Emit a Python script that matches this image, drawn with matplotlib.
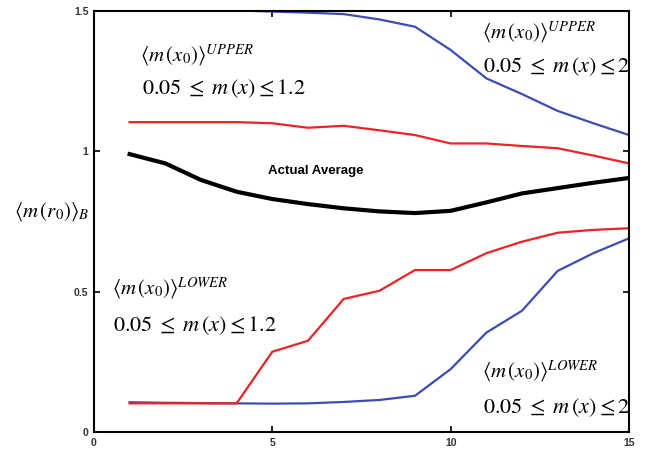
import matplotlib
matplotlib.use("Agg")
import matplotlib.pyplot as plt

plt.rcParams["mathtext.fontset"] = "stix"
plt.rcParams["font.family"] = ["Liberation Sans", "DejaVu Sans"]

# sample index along the horizontal axis
steps = list(range(1, 16))

actual_avg = [0.99, 0.957, 0.898, 0.856, 0.83, 0.812, 0.797, 0.786, 0.78,
              0.788, 0.818, 0.85, 0.869, 0.888, 0.905]

upper_12 = [1.104, 1.104, 1.104, 1.104, 1.10, 1.084, 1.091, 1.075, 1.058,
            1.028, 1.028, 1.019, 1.011, 0.985, 0.957]
lower_12 = [0.102, 0.102, 0.102, 0.102, 0.286, 0.325, 0.474, 0.503, 0.577,
            0.577, 0.637, 0.678, 0.71, 0.72, 0.726]

upper_2 = [1.53, 1.52, 1.51, 1.502, 1.498, 1.494, 1.489, 1.47, 1.444,
           1.361, 1.26, 1.204, 1.144, 1.10, 1.058]
lower_2 = [0.106, 0.104, 0.103, 0.102, 0.101, 0.102, 0.107, 0.114, 0.129,
           0.224, 0.354, 0.432, 0.574, 0.637, 0.69]

RED = "#ec2227"
BLUE = "#3b4db5"

fig = plt.figure(figsize=(6.45, 4.49), dpi=100, facecolor="white")
ax = fig.add_axes([0.1457, 0.0379, 0.8295, 0.9376])

ax.plot(steps, upper_2, color=BLUE, lw=1.6)
ax.plot(steps, lower_2, color=BLUE, lw=1.6)
ax.plot(steps, upper_12, color=RED, lw=1.6)
ax.plot(steps, lower_12, color=RED, lw=1.6)
ax.plot(steps, actual_avg, color="black", lw=3.0)

ax.set_xlim(0, 15)
ax.set_ylim(0, 1.5)
ax.set_xticks([0, 5, 10, 15])
ax.set_yticks([0, 0.5, 1, 1.5])
ax.set_yticklabels(["0", "0.5", "1", "1.5"])
ax.tick_params(direction="in", top=True, right=True, length=4, width=1.2,
               labelsize=7.5, pad=4, labelcolor="#333333")
for lab in ax.get_xticklabels() + ax.get_yticklabels():
    lab.set_fontweight("bold")
for sp in ax.spines.values():
    sp.set_linewidth(1.5)

ax.text(6.22, 0.93, "Actual Average", fontsize=9.5, fontweight="bold",
        ha="center", va="center")

bracket_up = r"$\left\langle m\,(x_0)\right\rangle^{UPPER}$"
bracket_lo = r"$\left\langle m\,(x_0)\right\rangle^{LOWER}$"
range_12 = r"$0.05\;\leq\;m\,(x)\leq 1.2$"
range_2 = r"$0.05\;\leq\;m\,(x)\leq 2$"

def px(x, y):
    return x / 645, 1 - y / 449

fig.text(*px(140, 55), bracket_up, fontsize=15, va="center")
fig.text(*px(142, 89), range_12, fontsize=16, va="center")
fig.text(*px(482, 32), bracket_up, fontsize=15, va="center")
fig.text(*px(483, 67), range_2, fontsize=16, va="center")
fig.text(*px(112, 288), bracket_lo, fontsize=15, va="center")
fig.text(*px(113, 326), range_12, fontsize=16, va="center")
fig.text(*px(482, 371), bracket_lo, fontsize=15, va="center")
fig.text(*px(483, 408), range_2, fontsize=16, va="center")

fig.text(*px(14, 212), r"$\left\langle m\,(r_0)\right\rangle_B$", fontsize=15,
         va="center")

fig.savefig("out.png", dpi=100, facecolor="white")
